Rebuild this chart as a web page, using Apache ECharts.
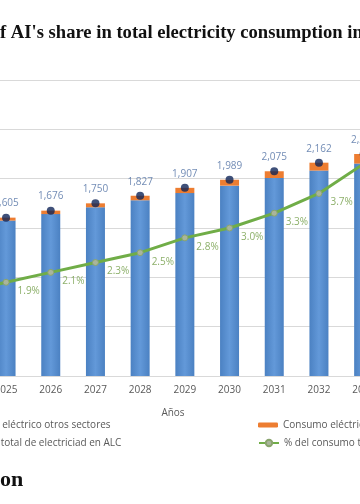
<!DOCTYPE html>
<html>
<head>
<meta charset="utf-8">
<script src="https://cdn.jsdelivr.net/npm/echarts@6/dist/echarts.min.js"></script>
<style>html,body{margin:0;padding:0;background:#fff}#c{width:360px;height:504px}</style>
</head>
<body>
<div id="c"></div>
<script>
var years = ['2024','2025','2026','2027','2028','2029','2030','2031','2032','2033'];
var totalConsumo = [1535, 1605, 1676, 1750, 1827, 1907, 1989, 2075, 2162, 2250];
var consumoIA = [26, 30, 35, 40, 46, 53, 60, 68, 80, 97];
var consumoOtros = [1509, 1575, 1641, 1710, 1781, 1854, 1929, 2007, 2082, 2153];
var pctIA = [1.7, 1.9, 2.1, 2.3, 2.5, 2.8, 3.0, 3.3, 3.7, 4.3];

var nOtros = 'Consumo eléctrico otros sectores';
var nIA = 'Consumo eléctrico IA';
var nTotal = 'Consumo total de electriciad en ALC';
var nPct = '% del consumo total de electricidad por IA';

var FONT = '"Open Sans", sans-serif';
var chart = echarts.init(document.getElementById('c'), null, {renderer: 'canvas'});
var legendText = {fontFamily: FONT, fontSize: 10, color: '#595959', lineHeight: 14};

chart.setOption({
  backgroundColor: '#ffffff',
  animation: false,
  title: [
    {text: "f AI's share in total electricity consumption in", left: 0, top: 24, padding: 0,
     textStyle: {fontFamily: '"Liberation Serif", serif', fontWeight: 'bold', fontSize: 18.6, color: '#111', lineHeight: 18}},
    {text: 'on', left: 0, top: 469, padding: 0,
     textStyle: {fontFamily: '"Liberation Serif", serif', fontWeight: 'bold', fontSize: 22, color: '#111', lineHeight: 22}}
  ],
  legend: [
    {data: [nOtros], left: -70, top: 418, padding: 0, orient: 'vertical', itemWidth: 20, itemHeight: 5, textStyle: legendText},
    {data: [nTotal], left: -64, top: 436, padding: 0, orient: 'vertical', itemWidth: 20, itemHeight: 5, textStyle: legendText},
    {data: [nIA], left: 258, top: 418, padding: 0, orient: 'vertical', itemWidth: 20, itemHeight: 5, textStyle: legendText},
    {data: [nPct], left: 258, top: 436, padding: 0, orient: 'vertical', itemWidth: 20, itemHeight: 8, textStyle: legendText}
  ],
  grid: {left: -61, width: 447, top: 80, height: 296, outerBoundsMode: 'none', containLabel: false},
  xAxis: {
    type: 'category', data: years,
    axisTick: {show: false},
    axisLine: {lineStyle: {color: '#d9d9d9'}},
    axisLabel: {fontFamily: FONT, fontSize: 10, color: '#595959', margin: 9},
    name: 'Años', nameLocation: 'middle', nameGap: 32,
    nameTextStyle: {fontFamily: FONT, fontSize: 10, color: '#595959', padding: [0, 0, 0, 21]}
  },
  yAxis: [
    {type: 'value', min: 0, max: 3000, interval: 500,
     axisLabel: {show: false}, axisLine: {show: false}, axisTick: {show: false},
     splitLine: {lineStyle: {color: '#d9d9d9', width: 1}}},
    {type: 'value', min: 0, max: 6, interval: 1,
     axisLabel: {show: false}, axisLine: {show: false}, axisTick: {show: false},
     splitLine: {show: false}}
  ],
  series: [
    {name: nOtros, type: 'bar', stack: 'tot', data: consumoOtros, barWidth: 19,
     itemStyle: {color: new echarts.graphic.LinearGradient(0, 0, 1, 0, [
       {offset: 0, color: '#4b81c2'}, {offset: 0.5, color: '#6399d9'}, {offset: 1, color: '#4b81c2'}])}},
    {name: nIA, type: 'bar', stack: 'tot', data: consumoIA, barWidth: 19,
     itemStyle: {color: '#ed7d31'}},
    {name: nTotal, type: 'scatter', data: totalConsumo, symbol: 'circle', symbolSize: 8, z: 5,
     itemStyle: {color: '#0f2457'},
     label: {show: true, position: 'top', distance: 5, fontFamily: FONT, fontSize: 10, color: '#4f6fa3',
       formatter: function (p) { return p.value.toLocaleString('en-US'); }}},
    {name: nPct, type: 'line', yAxisIndex: 1, data: pctIA, symbol: 'circle', symbolSize: 6, z: 4,
     lineStyle: {color: '#70ad47', width: 3},
     itemStyle: {color: '#a9b59c', borderColor: '#8aa46e', borderWidth: 1},
     label: {show: true, position: 'right', distance: 8, offset: [0, 9], fontFamily: FONT, fontSize: 10, color: '#8db06a',
       formatter: function (p) { return p.value.toFixed(1) + '%'; }}}
  ]
});
</script>
</body>
</html>
